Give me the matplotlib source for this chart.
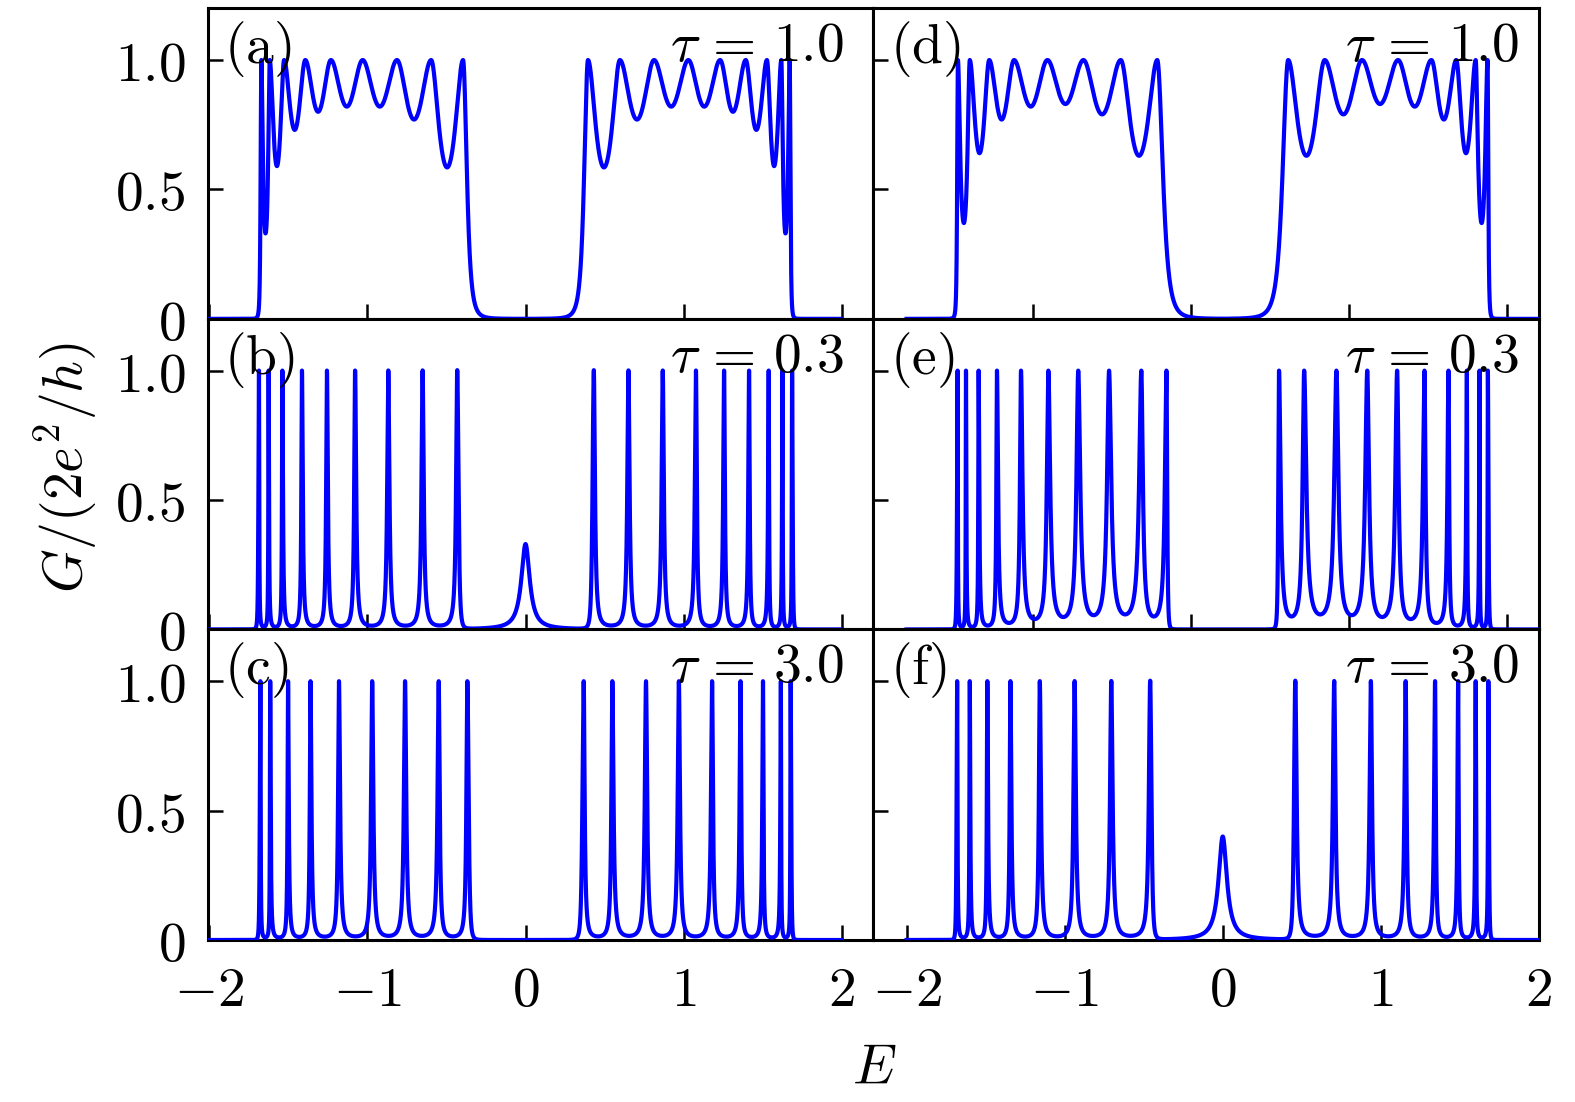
import numpy as np
import matplotlib
matplotlib.use("Agg")
import matplotlib.pyplot as plt

plt.rcParams['mathtext.fontset'] = 'cm'

# resonance energies |E| (inner -> outer, mirrored to negative E)
# and conductance minima between neighbouring resonances
a_peaks = [0.395, 0.597, 0.813, 1.030, 1.231, 1.393, 1.527, 1.618, 1.671]
a_valleys = [0.585, 0.77, 0.82, 0.82, 0.80, 0.73, 0.59, 0.33]
b_peaks = [0.432, 0.651, 0.868, 1.078, 1.256, 1.414, 1.538, 1.625, 1.686]
b_valleys = [0.014, 0.014, 0.014, 0.013, 0.013, 0.012, 0.010, 0.010]
c_peaks = [0.368, 0.549, 0.762, 0.970, 1.180, 1.360, 1.502, 1.615, 1.677]
c_valleys = [0.014, 0.016, 0.016, 0.014, 0.013, 0.012, 0.010, 0.010]
d_peaks = [0.414, 0.645, 0.881, 1.109, 1.320, 1.477, 1.600, 1.675]
d_valleys = [0.63, 0.79, 0.83, 0.82, 0.77, 0.64, 0.37]
e_peaks = [0.356, 0.515, 0.719, 0.914, 1.103, 1.276, 1.428, 1.544, 1.624, 1.677]
e_valleys = [0.050, 0.058, 0.055, 0.048, 0.040, 0.025, 0.015, 0.010, 0.010]
f_peaks = [0.459, 0.705, 0.937, 1.157, 1.343, 1.489, 1.600, 1.680]
f_valleys = [0.015, 0.015, 0.014, 0.013, 0.012, 0.010, 0.010]

# band edge widths (gap side, outer side) and zero-energy peak (height, width)
edge_in = [0.042, 0.014, 0.014, 0.062, 0.008, 0.014]
edge_out = [0.008, 0.006, 0.006, 0.008, 0.006, 0.006]
zero_peak = [(0, 0), (0.33, 0.032), (0, 0), (0, 0), (0, 0), (0.40, 0.032)]

labels = ['(a)', '(b)', '(c)', '(d)', '(e)', '(f)']
taus = ['1.0', '0.3', '3.0', '1.0', '0.3', '3.0']
all_peaks = [a_peaks, b_peaks, c_peaks, d_peaks, e_peaks, f_peaks]
all_valleys = [a_valleys, b_valleys, c_valleys, d_valleys, e_valleys, f_valleys]


def band(E, peaks, valleys, s_lo, s_hi):
    G = np.zeros_like(E)
    for p0, p1, m in zip(peaks[:-1], peaks[1:], valleys):
        sel = (E >= p0) & (E <= p1)
        F = 1.0 / m - 1.0
        G[sel] = 1.0 / (1.0 + F * np.sin(np.pi * (E[sel] - p0) / (p1 - p0)) ** 2)
    lo = E < peaks[0]
    G[lo] = 1.0 / (1.0 + ((peaks[0] - E[lo]) / s_lo) ** 2) ** 2
    hi = E > peaks[-1]
    G[hi] = 1.0 / (1.0 + ((E[hi] - peaks[-1]) / s_hi) ** 2) ** 2
    return G


def conductance(peaks, valleys, s_in, s_out, h0, w0):
    p = np.array(peaks)
    v = np.array(valleys)
    E = np.union1d(np.linspace(-2, 2, 40001), np.concatenate([-p, p, [0.0]]))
    left = band(E, -p[::-1], v[::-1], s_out, s_in)
    right = band(E, p, v, s_in, s_out)
    G = np.maximum(left, right)
    if h0 > 0:
        G = G + h0 / (1.0 + (E / w0) ** 2)
    return E, G


fig, axes = plt.subplots(3, 2, figsize=(15.75, 11.02), dpi=100,
                         gridspec_kw=dict(wspace=0, hspace=0))
fig.subplots_adjust(left=0.1319, right=0.9771, top=0.9925, bottom=0.147)

fs = 40
for i in range(6):
    col, row = np.unravel_index(i, (2, 3))
    ax = axes[row][col]
    E, G = conductance(all_peaks[i], all_valleys[i], edge_in[i], edge_out[i], *zero_peak[i])
    ax.plot(E, G, color='#0000ff', lw=3.0, zorder=3)

    ax.set_ylim(0, 1.2)
    if col == 0:
        ax.set_xlim(-2.01, 2.2)
        ax.set_xticks([-2, -1, 0, 1, 2])
    else:
        ax.set_xlim(-2.21, 2.0)
        if row < 2:
            ax.set_xticks([-1.2, -0.2, 0.8, 1.8])
        else:
            ax.set_xticks([-2, -1, 0, 1, 2])
    ax.set_yticks([0, 0.5, 1.0])

    if row == 2:
        ax.set_xticklabels([r'$-2$', r'$-1$', r'$0$', r'$1$', r'$2$'])
    else:
        ax.set_xticklabels([])
    if col == 0:
        ax.set_yticklabels([r'$0$', r'$0.5$', r'$1.0$'])
    else:
        ax.set_yticklabels([])

    ax.tick_params(direction='in', length=11, width=1.8, top=False, right=False,
                   labelsize=fs)
    ax.tick_params(axis='x', pad=17)
    ax.tick_params(axis='y', pad=16)
    for sp in ax.spines.values():
        sp.set_linewidth(2.2)

    ax.text(0.025, 0.965, r'$\mathrm{' + labels[i] + '}$', transform=ax.transAxes,
            fontsize=fs, ha='left', va='top')
    ax.text(0.955 if col == 0 else 0.97, 0.965, r'$\tau \,=\, ' + taus[i] + '$',
            transform=ax.transAxes, fontsize=fs, ha='right', va='top')

fig.text(0.042, 0.576, r'$G/(2e^2/h)$', fontsize=fs, rotation=90, ha='center', va='center')
fig.text(0.555, 0.03, r'$E$', fontsize=fs, ha='center', va='center')

fig.savefig('out.png', dpi=100)
